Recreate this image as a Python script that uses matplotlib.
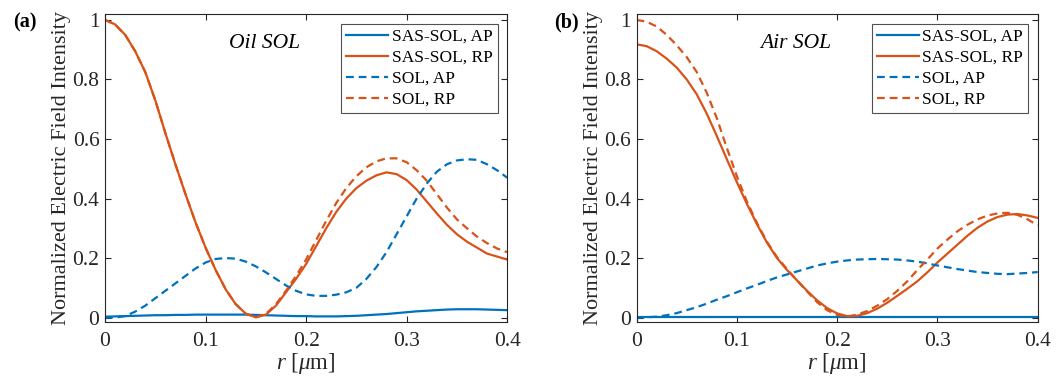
import matplotlib
matplotlib.use('Agg')
import matplotlib.pyplot as plt
import numpy as np
from matplotlib.ticker import FuncFormatter

plt.rcParams['font.family'] = ['Liberation Serif', 'DejaVu Serif']
plt.rcParams['mathtext.fontset'] = 'custom'
plt.rcParams['mathtext.rm'] = 'Liberation Serif'
plt.rcParams['mathtext.it'] = 'Liberation Serif:italic'

# radial position (um), sampled every 0.01
r = [0.00, 0.01, 0.02, 0.03, 0.04, 0.05, 0.06, 0.07, 0.08, 0.09,
     0.10, 0.11, 0.12, 0.13, 0.14, 0.15, 0.16, 0.17, 0.18, 0.19,
     0.20, 0.21, 0.22, 0.23, 0.24, 0.25, 0.26, 0.27, 0.28, 0.29,
     0.30, 0.31, 0.32, 0.33, 0.34, 0.35, 0.36, 0.37, 0.38, 0.39, 0.40]

# (a) Oil SOL
oil_sas_ap = [0.003, 0.004, 0.005, 0.006, 0.007, 0.008, 0.008, 0.009, 0.009, 0.010,
              0.010, 0.010, 0.010, 0.010, 0.010, 0.009, 0.008, 0.007, 0.006, 0.005,
              0.005, 0.004, 0.004, 0.004, 0.005, 0.006, 0.008, 0.010, 0.012, 0.015,
              0.018, 0.021, 0.023, 0.025, 0.027, 0.028, 0.028, 0.028, 0.027, 0.026, 0.025]
oil_sas_rp = [1.000, 0.985, 0.950, 0.895, 0.825, 0.730, 0.620, 0.515, 0.415, 0.320,
              0.235, 0.160, 0.095, 0.045, 0.013, 0.001, 0.010, 0.040, 0.085, 0.130,
              0.180, 0.240, 0.300, 0.355, 0.400, 0.435, 0.460, 0.478, 0.488, 0.482,
              0.462, 0.430, 0.390, 0.350, 0.312, 0.280, 0.255, 0.235, 0.215, 0.205, 0.195]
oil_sol_ap = [0.000, 0.000, 0.005, 0.020, 0.040, 0.065, 0.090, 0.115, 0.140, 0.165,
              0.185, 0.197, 0.200, 0.198, 0.188, 0.172, 0.152, 0.130, 0.108, 0.090,
              0.078, 0.073, 0.073, 0.077, 0.085, 0.100, 0.130, 0.170, 0.220, 0.280,
              0.340, 0.400, 0.450, 0.490, 0.515, 0.528, 0.532, 0.530, 0.515, 0.495, 0.470]
oil_sol_rp = [1.000, 0.985, 0.950, 0.895, 0.825, 0.730, 0.620, 0.515, 0.415, 0.320,
              0.235, 0.160, 0.095, 0.045, 0.013, 0.001, 0.012, 0.045, 0.090, 0.140,
              0.195, 0.260, 0.325, 0.385, 0.435, 0.475, 0.505, 0.525, 0.535, 0.535,
              0.522, 0.495, 0.460, 0.415, 0.370, 0.330, 0.300, 0.272, 0.250, 0.232, 0.220]

# (b) Air SOL
air_sas_ap = [0.002] * 41
air_sas_rp = [0.918, 0.912, 0.895, 0.870, 0.840, 0.800, 0.750, 0.685, 0.610, 0.532,
              0.455, 0.382, 0.314, 0.252, 0.200, 0.160, 0.125, 0.090, 0.058, 0.032,
              0.014, 0.005, 0.006, 0.015, 0.030, 0.050, 0.073, 0.097, 0.122, 0.152,
              0.185, 0.215, 0.245, 0.275, 0.302, 0.323, 0.338, 0.346, 0.348, 0.343, 0.335]
air_sol_ap = [0.000, 0.001, 0.003, 0.008, 0.015, 0.025, 0.035, 0.047, 0.060, 0.072,
              0.085, 0.098, 0.110, 0.123, 0.135, 0.145, 0.155, 0.165, 0.175, 0.182,
              0.188, 0.192, 0.195, 0.196, 0.197, 0.196, 0.195, 0.192, 0.188, 0.182,
              0.175, 0.169, 0.163, 0.158, 0.153, 0.150, 0.147, 0.146, 0.148, 0.150, 0.153]
air_sol_rp = [1.000, 0.994, 0.978, 0.950, 0.915, 0.875, 0.825, 0.755, 0.670, 0.570,
              0.475, 0.390, 0.318, 0.255, 0.203, 0.163, 0.125, 0.088, 0.052, 0.025,
              0.009, 0.003, 0.010, 0.022, 0.040, 0.062, 0.090, 0.122, 0.160, 0.195,
              0.232, 0.262, 0.290, 0.312, 0.330, 0.343, 0.350, 0.352, 0.345, 0.330, 0.310]

labels = ['SAS-SOL, AP', 'SAS-SOL, RP', 'SOL, AP', 'SOL, RP']
blue = '#0072BD'
orange = '#D95319'

fig = plt.figure(figsize=(10.61, 3.78), dpi=100)
ax_a = fig.add_axes([0.099, 0.148, 0.379, 0.815])
ax_b = fig.add_axes([0.600, 0.148, 0.378, 0.815])

panels = [
    (ax_a, 'Oil SOL', '(a)', 0.012, [oil_sas_ap, oil_sas_rp, oil_sol_ap, oil_sol_rp]),
    (ax_b, 'Air SOL', '(b)', 0.522, [air_sas_ap, air_sas_rp, air_sol_ap, air_sol_rp]),
]

fmt = FuncFormatter(lambda v, p: '%g' % round(v, 3))

for ax, title, tag, tag_x, series in panels:
    ax.plot(r, series[0], color=blue, lw=1.6, label=labels[0])
    ax.plot(r, series[1], color=orange, lw=1.6, label=labels[1])
    ax.plot(r, series[2], color=blue, lw=1.6, ls=(0, (3.5, 2.2)), label=labels[2])
    ax.plot(r, series[3], color=orange, lw=1.6, ls=(0, (3.5, 2.2)), label=labels[3])
    ax.set_xlim(0, 0.4)
    ax.set_ylim(-0.015, 1.02)
    ax.set_xticks([0, 0.1, 0.2, 0.3, 0.4])
    ax.set_yticks([0, 0.2, 0.4, 0.6, 0.8, 1])
    ax.xaxis.set_major_formatter(fmt)
    ax.yaxis.set_major_formatter(fmt)
    ax.tick_params(direction='in', top=True, right=True, labelsize=15.5,
                   colors='#262626', length=4, width=0.8)
    ax.tick_params(axis='x', pad=7)
    ax.tick_params(axis='y', pad=4)
    for s in ax.spines.values():
        s.set_color('#262626')
        s.set_linewidth(0.8)
    ax.set_xlabel('$r$ [$\\mu$m]', fontsize=16.5, color='#262626', labelpad=0)
    ax.set_ylabel('Normalized Electric Field Intensity', fontsize=16,
                  color='#262626', labelpad=1)
    ax.text(0.159, 0.92, title, style='italic', fontsize=15.5, ha='center',
            va='center', color='#000000')
    leg = ax.legend(loc='upper right', fontsize=12.5, frameon=True, fancybox=False,
                    edgecolor='#262626', handlelength=2.4, borderpad=0.3,
                    labelspacing=0.28, handletextpad=0.2, borderaxespad=0.55)
    leg.get_frame().set_linewidth(0.8)
    fig.text(tag_x, 0.94, tag, fontsize=14.5, fontweight='bold', va='center')

fig.savefig('out.png', dpi=100)
